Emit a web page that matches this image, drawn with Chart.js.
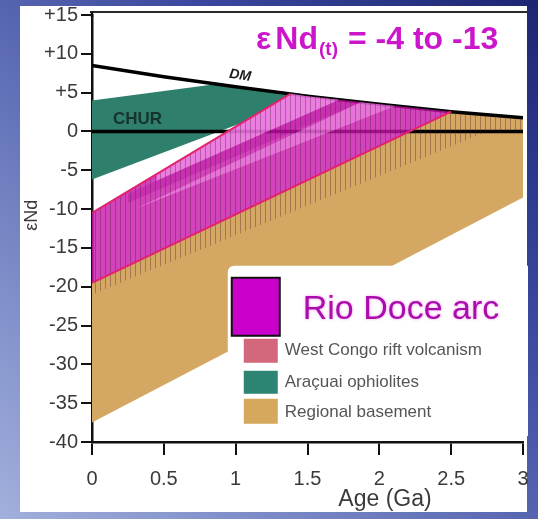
<!DOCTYPE html>
<html>
<head>
<meta charset="utf-8">
<script src="https://cdn.jsdelivr.net/npm/chart.js@4.4.1/dist/chart.umd.min.js"></script>
<style>
  html, body { margin: 0; padding: 0; }
  body {
    width: 538px; height: 519px; overflow: hidden; position: relative;
    background: linear-gradient(to top right, #a2b0dc 0%, #6c7cbe 35%, #3b489e 68%, #1c2672 100%);
  }
  #panel { position: absolute; left: 20px; top: 6px; width: 507px; height: 506px; background: #fff; }
  #wrap { position: absolute; left: 0; top: 0; width: 538px; height: 519px; }
</style>
</head>
<body>
<div id="panel"></div>
<div id="wrap"><canvas id="c"></canvas></div>
<script>
const FONT = '"Liberation Sans", Arial, sans-serif';

const xTickValues = [0, 0.5, 1, 1.5, 2, 2.5, 3];
const xTickLabels = ['0', '0.5', '1', '1.5', '2', '2.5', '3'];
const yTickValues = [15, 10, 5, 0, -5, -10, -15, -20, -25, -30, -35, -40];
const yTickLabels = ['+15', '+10', '+5', '0', '-5', '-10', '-15', '-20', '-25', '-30', '-35', '-40'];

// reference lines
const dmAge = [0, 0.5, 1, 1.5, 2, 2.5, 3];
const dmEps = [8.5, 7.05, 5.75, 4.55, 3.5, 2.55, 1.75];
const churAge = [0, 3];
const churEps = [0, 0];

// Regional basement field
const baseAge = [0, 2.5, 3, 3, 0, 0];
const baseEps = [-19.5, 2.55, 1.75, -8.5, -37.5, -19.5];

// Araçuai ophiolites field
const ophAge = [0, 0.87, 1, 1.25, 1.38, 1.05, 0, 0];
const ophEps = [4, 6.1, 5.75, 5.15, 4.85, 1.15, -6.2, 4];

// hatched West Congo field
const riftAge = [0, 1.38, 1.5, 2, 2.5, 3, 3, 2.75, 0, 0];
const riftEps = [-10.5, 4.85, 4.55, 3.5, 2.55, 1.75, 0, 0, -21, -10.5];

// Rio Doce arc band
const arcAge = [0, 1.38, 1.5, 2, 2.5, 0, 0];
const arcEps = [-10.5, 4.85, 4.55, 3.5, 2.55, -19.5, -10.5];
const arcTopAge = [0, 1.38];
const arcTopEps = [-10.5, 4.85];
const arcBotAge = [0, 2.5];
const arcBotEps = [-19.5, 2.55];

// streaks inside the arc band
const lightAAge = [0.45, 1.38, 1.5, 1.72, 0.45, 0.45];
const lightAEps = [-5.5, 4.85, 4.55, 4.08, -6.36, -5.5];
const darkAge = [0.25, 1.72, 1.87, 0.25, 0.25];
const darkEps = [-8.0, 4.08, 3.77, -9.2, -8.0];
const lightBAge = [0.3, 1.87, 2, 2.11, 0.3];
const lightBEps = [-10.0, 3.77, 3.5, 3.28, -10.0];

const toXY = (xs, ys) => xs.map((x, i) => ({ x, y: ys[i] }));

function makeHatch() {
  const c = document.createElement('canvas');
  c.width = 5; c.height = 4;
  const g = c.getContext('2d');
  g.fillStyle = 'rgba(70,30,50,0.34)';
  g.fillRect(0, 0, 1, 4);
  return g.createPattern(c, 'repeat');
}

function area(label, xs, ys, bg, order) {
  return { label, data: toXY(xs, ys), fill: 'shape', backgroundColor: bg,
           borderWidth: 0, pointRadius: 0, order };
}
function line(label, xs, ys, color, width, order) {
  return { label, data: toXY(xs, ys), fill: false, borderColor: color,
           borderWidth: width, pointRadius: 0, order };
}

const decor = {
  id: 'decor',
  afterDatasetsDraw(chart) {
    const { ctx, chartArea: a, scales: { x, y } } = chart;
    ctx.save();

    // top frame line
    ctx.strokeStyle = '#2a2a2a';
    ctx.lineWidth = 2;
    ctx.beginPath();
    ctx.moveTo(a.left - 2, a.top - 3);
    ctx.lineTo(a.right + 4, a.top - 3);
    ctx.stroke();
    ctx.strokeStyle = '#111';
    ctx.lineWidth = 2.5;
    ctx.beginPath();
    ctx.moveTo(a.left, a.top - 3);
    ctx.lineTo(a.left, a.top + 2);
    ctx.stroke();

    // CHUR / DM labels
    ctx.fillStyle = '#17332e';
    ctx.font = 'bold 17px ' + FONT;
    ctx.textBaseline = 'alphabetic';
    ctx.fillText('CHUR', x.getPixelForValue(0.146), y.getPixelForValue(0) - 7);

    const ang = Math.atan2(y.getPixelForValue(5.3) - y.getPixelForValue(6.4),
                           x.getPixelForValue(1.2) - x.getPixelForValue(0.8));
    ctx.save();
    ctx.translate(x.getPixelForValue(1.03), y.getPixelForValue(7.2));
    ctx.rotate(ang);
    ctx.fillStyle = '#1a1a1a';
    ctx.font = 'italic bold 14px ' + FONT;
    ctx.textAlign = 'center';
    ctx.textBaseline = 'middle';
    ctx.fillText('DM', 0, 0);
    ctx.restore();

    // headline
    ctx.fillStyle = '#cc16cc';
    ctx.textBaseline = 'alphabetic';
    ctx.font = 'bold 32px ' + FONT;
    ctx.textAlign = 'left';
    ctx.fillText('\u03b5', a.left + 164, a.top + 34);
    ctx.textAlign = 'right';
    ctx.fillText('Nd', a.left + 226, a.top + 34);
    ctx.textAlign = 'left';
    ctx.font = 'bold 19px ' + FONT;
    ctx.fillText('(t)', a.left + 227, a.top + 40);
    ctx.font = 'bold 32px ' + FONT;
    ctx.fillText('= -4 to -13', a.left + 256, a.top + 34);

    // legend panel
    const L = x.getPixelForValue(0.945);
    const T = y.getPixelForValue(-17.3);
    const R = a.right + 5, B = a.bottom - 6, r = 7;
    ctx.fillStyle = '#fff';
    ctx.beginPath();
    ctx.moveTo(L + r, T);
    ctx.lineTo(R, T);
    ctx.lineTo(R, B);
    ctx.lineTo(L, B);
    ctx.lineTo(L, T + r);
    ctx.quadraticCurveTo(L, T, L + r, T);
    ctx.fill();

    ctx.fillStyle = '#cc00cc';
    ctx.fillRect(L + 4, T + 12, 48, 58);
    ctx.strokeStyle = '#111';
    ctx.lineWidth = 2;
    ctx.strokeRect(L + 4, T + 12, 48, 58);

    const patches = [['#d3677c', 73, 24, 'West Congo rift volcanism', 85],
                     ['#2e8472', 105, 23, 'Ara\u00e7uai ophiolites', 117],
                     ['#d6a85e', 133, 25, 'Regional basement', 147]];
    ctx.font = '17px ' + FONT;
    ctx.textBaseline = 'middle';
    for (const [c, top, h, txt, cy] of patches) {
      ctx.fillStyle = c;
      ctx.fillRect(L + 16, T + top, 34, h);
      ctx.fillStyle = '#555';
      ctx.fillText(txt, L + 57, T + cy);
    }

    ctx.save();
    ctx.shadowColor = 'rgba(235,120,235,0.7)';
    ctx.shadowBlur = 3;
    ctx.fillStyle = '#ab0cab';
    ctx.font = '34px ' + FONT;
    ctx.textBaseline = 'alphabetic';
    ctx.fillText('Rio Doce arc', L + 75, T + 53);
    ctx.restore();

    // axis titles
    ctx.fillStyle = '#3a3a3a';
    ctx.font = '23px ' + FONT;
    ctx.textAlign = 'center';
    ctx.textBaseline = 'middle';
    ctx.fillText('Age (Ga)', a.left + 293, a.bottom + 58);

    ctx.save();
    ctx.translate(a.left - 55, y.getPixelForValue(-10.8));
    ctx.rotate(-Math.PI / 2);
    ctx.font = '18px ' + FONT;
    ctx.textBaseline = 'alphabetic';
    ctx.fillText('\u03b5Nd', 0, 0);
    ctx.restore();

    ctx.restore();
  }
};

const hatch = makeHatch();

new Chart(document.getElementById('c'), {
  type: 'line',
  data: {
    datasets: [
      line('arc top', arcTopAge, arcTopEps, '#e3226f', 2, 1),
      line('arc bottom', arcBotAge, arcBotEps, '#e3226f', 2, 1),
      area('West Congo hatch', riftAge, riftEps, hatch, 2),
      area('streak B', lightBAge, lightBEps, 'rgba(255,175,255,0.45)', 3),
      area('streak dark', darkAge, darkEps, 'rgba(175,0,150,0.28)', 4),
      area('streak A', lightAAge, lightAEps, 'rgba(255,175,255,0.55)', 5),
      area('Rio Doce arc', arcAge, arcEps, 'rgba(200,20,170,0.8)', 6),
      line('DM', dmAge, dmEps, '#000', 3.5, 7),
      line('CHUR', churAge, churEps, '#000', 3.5, 8),
      area('Araçuai ophiolites', ophAge, ophEps, '#2f7f6d', 9),
      area('Regional basement', baseAge, baseEps, '#d4a862', 10)
    ]
  },
  options: {
    responsive: true,
    maintainAspectRatio: false,
    animation: false,
    events: [],
    layout: { padding: { top: 13, right: 15, left: 0, bottom: 0 } },
    plugins: { legend: { display: false }, tooltip: { enabled: false } },
    scales: {
      x: {
        type: 'linear', min: 0, max: 3,
        afterFit: s => { s.height = 77; s.paddingLeft = 0; s.paddingRight = 0; },
        afterBuildTicks: s => { s.ticks = xTickValues.map(v => ({ value: v })); },
        grid: { drawOnChartArea: false, tickLength: 13, color: '#111', lineWidth: 2 },
        border: { color: '#111', width: 2.5 },
        ticks: {
          padding: 12, color: '#3a3a3a', font: { size: 20, family: FONT },
          maxRotation: 0, autoSkip: false,
          callback: v => xTickLabels[xTickValues.indexOf(v)]
        }
      },
      y: {
        type: 'linear', min: -40, max: 15,
        afterFit: s => { s.width = 92; },
        afterBuildTicks: s => { s.ticks = yTickValues.map(v => ({ value: v })); },
        grid: { drawOnChartArea: false, tickLength: 11, color: '#111', lineWidth: 2 },
        border: { color: '#111', width: 2.5 },
        ticks: {
          padding: 3, color: '#3a3a3a', font: { size: 20, family: FONT },
          autoSkip: false,
          callback: v => yTickLabels[yTickValues.indexOf(v)]
        }
      }
    }
  },
  plugins: [decor]
});
</script>
</body>
</html>
